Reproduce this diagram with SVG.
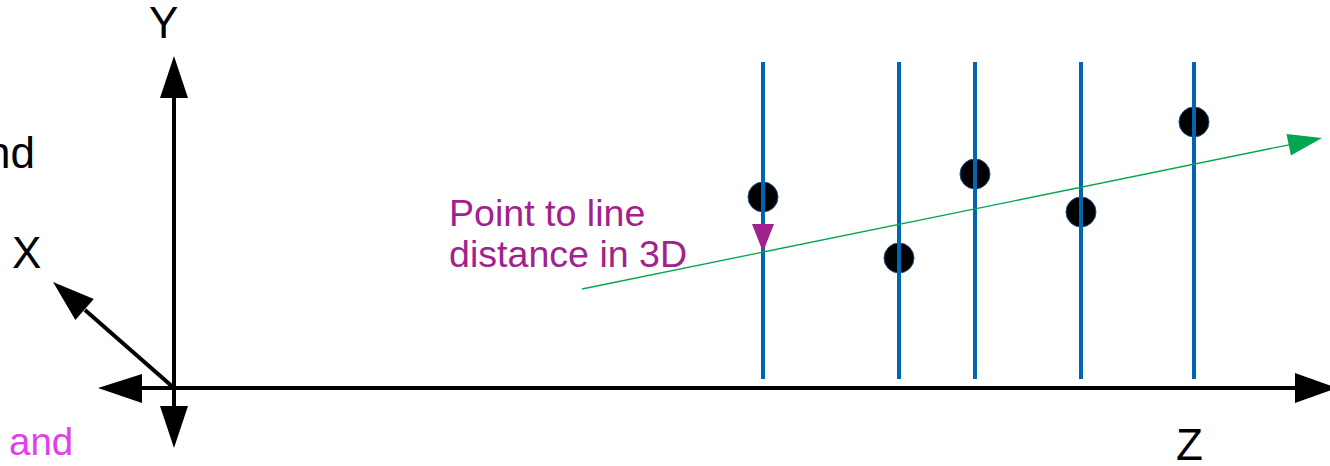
<svg xmlns="http://www.w3.org/2000/svg" width="1330" height="466" viewBox="0 0 1330 466">
<style>
.lbl{font-family:"Liberation Sans",Arial,sans-serif;font-size:44px;fill:#000}
.note{font-family:"Liberation Sans",Arial,sans-serif;font-size:37.6px}
.axis{stroke:#000;stroke-width:4;fill:none}
.grid{stroke:#0066b3;stroke-width:4;fill:none}
.dot{fill:#000;stroke:#1a4f8a;stroke-width:1}
</style>
<rect width="1330" height="466" fill="#fff"/>
<g id="axes">
<line class="axis" x1="174" y1="96" x2="174" y2="408"/>
<line class="axis" x1="140" y1="388" x2="1297" y2="388"/>
<line class="axis" x1="174" y1="388" x2="85" y2="310"/>
<polygon points="174,56 160,98 188,98" fill="#000"/>
<polygon points="174,448 160,406 188,406" fill="#000"/>
<polygon points="98,388 142,374 142,403" fill="#000"/>
<polygon points="1337,388 1295,373 1295,403" fill="#000"/>
<polygon points="53,282 93.8,299.1 75.4,320.1" fill="#000"/>
</g>
<g id="labels">
<text class="lbl" x="149" y="38">Y</text>
<text class="lbl" x="12" y="268">X</text>
<text class="lbl" x="1176" y="460">Z</text>
<text class="lbl" x="35" y="168" text-anchor="end">nd</text>
<text class="note" x="9" y="455" fill="#e040e8" style="font-size:38.5px">and</text>
</g>
<g id="points">
<circle class="dot" cx="763" cy="197" r="15"/>
<circle class="dot" cx="899" cy="258" r="15"/>
<circle class="dot" cx="975" cy="174" r="15"/>
<circle class="dot" cx="1081" cy="212" r="15"/>
<circle class="dot" cx="1194" cy="122" r="15"/>
</g>
<g id="rays">
<line class="grid" x1="763" y1="62" x2="763" y2="379"/>
<line class="grid" x1="899" y1="62" x2="899" y2="379"/>
<line class="grid" x1="975" y1="62" x2="975" y2="379"/>
<line class="grid" x1="1081" y1="62" x2="1081" y2="379"/>
<line class="grid" x1="1194" y1="62" x2="1194" y2="379"/>
</g>
<g id="connectors">
<line x1="582" y1="289" x2="1289" y2="144.8" stroke="#00a651" stroke-width="1.3"/>
<polygon points="1322,138 1290.9,155.6 1286.5,134" fill="#00a651"/>
<polygon points="752,224 774,224 763,252" fill="#a1228e"/>
</g>
<g id="distance-label">
<text class="note" x="449" y="226" fill="#a1228e">Point to line</text>
<text class="note" x="449" y="267" fill="#a1228e">distance in 3D</text>
</g>
</svg>
